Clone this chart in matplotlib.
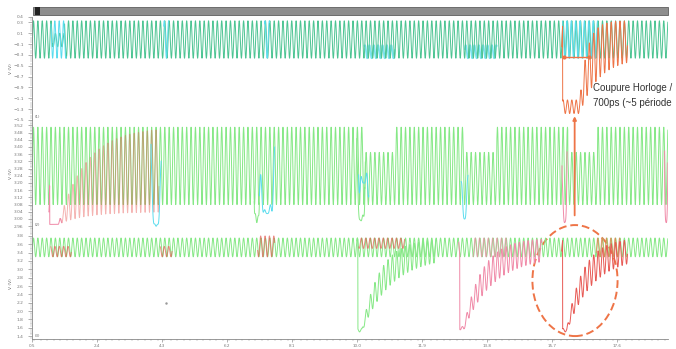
import numpy as np
import matplotlib.pyplot as plt
from matplotlib.patches import Ellipse, Rectangle, ConnectionPatch
from matplotlib.ticker import MultipleLocator, AutoMinorLocator

t_min, t_max = 0.5, 19.1
clk_period = 0.128
x_ticks = [0.5, 2.4, 4.3, 6.2, 8.1, 10.0, 11.9, 13.8, 15.7, 17.6]

# (1) horloge differentielle
p1_lo, p1_hi = -0.36, 0.33
p1_ticks = [0.4, 0.3, 0.1, -0.1, -0.3, -0.5, -0.7, -0.9, -1.1, -1.3, -1.5]
p1_squeeze = [(1.10, 1.45, -0.15, 0.10)]
p1_cyan_low = [(10.23, 11.11), (13.16, 14.09)]
p1_cyan_full = [(1.05, 1.50), (4.35, 4.50), (7.30, 7.45), (16.02, 17.04)]
p1_cut = (16.02, -1.38, 0.50, 0.55, 1.9)     # debut, plancher, maintien, tau, duree

# (2) sortie intermediaire
p2_lo, p2_hi, p2_hi_low = 3.08, 3.51, 3.37
p2_ticks = [2.96, 3.0, 3.04, 3.08, 3.12, 3.16, 3.2, 3.24, 3.28, 3.32, 3.36,
            3.40, 3.44, 3.48, 3.52]
p2_low_win = [(10.23, 11.11), (13.16, 14.09), (16.17, 17.04)]
p2_settle = (1.02, 2.97, 3.04, 0.25, 0.8)   # debut, plancher, bas, maintien, tau
p2_glitch_t = [3.98, 7.00, 7.15, 10.00, 10.05, 13.05, 16.00, 19.00]
p2_glitch_v = [2.96, 2.98, 3.03, 2.99, 3.20, 3.00, 2.98, 2.98]
p2_glitch_w = [0.30, 0.15, 0.45, 0.25, 0.30, 0.20, 0.15, 0.10]
p2_glitch_c = ["cyan", "green", "cyan", "green", "cyan", "cyan", "pink", "pink"]

# (3) sortie
p3_lo, p3_hi = 3.30, 3.75
p3_ticks = [1.4, 1.6, 1.8, 2.0, 2.2, 2.4, 2.6, 2.8, 3.0, 3.2, 3.4, 3.6, 3.8]
p3_dip_t = [10.03, 13.01, 16.02]
p3_dip_v = [1.50, 1.55, 1.50]
p3_dip_tau = [0.85, 0.85, 0.75]
p3_dip_len = [2.3, 2.4, 1.9]
p3_dip_c = ["green", "pink", "red"]
p3_over_a = [1.05, 4.25, 7.10, 10.05, 13.40, 17.00]
p3_over_b = [1.65, 4.60, 7.60, 11.40, 14.40, 17.70]
p3_over_lo = [3.30, 3.30, 3.30, 3.50, 3.30, 3.30]
p3_over_hi = [3.55, 3.55, 3.80, 3.75, 3.75, 3.75]
p3_over_c = ["red", "red", "red", "red", "pink", "orange"]

colors = {"teal": "#4cc492", "cyan": "#5adcee", "green": "#86e886",
          "pink": "#f08aa8", "red": "#e85a55", "orange": "#ee7447"}

t = np.arange(t_min, t_max, 0.004)


def clock(tt, lo, hi, phase=0.0):
    return lo + (hi - lo) * 0.5 * (1 + np.sin(2 * np.pi * tt / clk_period + phase))


def cut(tt, y, a, b):
    y = np.array(y, dtype=float)
    y[(tt < a) | (tt > b)] = np.nan
    return y


def recovery(tt, t0, floor, lo, hi, hold, tau, bump=0.1, k=2.0):
    s = np.clip(tt - t0 - hold, 0, None)
    e = np.exp(-s / tau)
    low = lo + (floor - lo) * e
    high = hi + (floor + bump - hi) * e ** k
    y = clock(tt, low, high)
    before = tt < t0
    y[before] = clock(tt[before], lo, hi)
    return y


def glitch(tt, t0, depth, w, lo, hi):
    m = (tt >= t0) & (tt <= t0 + w)
    b = np.sin(np.pi * (tt[m] - t0) / w) ** 0.5
    return tt[m], clock(tt[m], lo, hi) * (1 - b) + depth * b


W, H = 676, 349
fig = plt.figure(figsize=(W / 100, H / 100), dpi=100)


def px_axes(top, bottom):
    return fig.add_axes([32 / W, (H - bottom) / H, 636 / W, (bottom - top) / H])


ax1 = px_axes(17, 120)
ax2 = px_axes(120, 228)
ax3 = px_axes(228, 339)
lw = 0.7

# ---- (1) ----
lo1 = np.full_like(t, p1_lo)
hi1 = np.full_like(t, p1_hi)
for a, b, lo, hi in p1_squeeze:
    m = (t >= a) & (t <= b)
    lo1[m], hi1[m] = lo, hi
for a, b in p1_cyan_low:
    ax1.plot(t, cut(t, clock(t, p1_lo, -0.12, 1.6), a, b), color=colors["cyan"], lw=1.3,
             alpha=0.8)
t0, fl, hold, tau, span = p1_cut
m = (t >= t0 - 0.03) & (t <= t0 + span)
y_cut = recovery(t[m], t0, fl, p1_lo, p1_hi, hold, tau, bump=0.25, k=2.5)
ax1.plot(t, clock(t, lo1, hi1), color=colors["teal"], lw=lw)
for a, b in p1_cyan_full:
    ax1.plot(t, cut(t, clock(t, p1_lo, p1_hi, 0.8), a, b), color=colors["cyan"], lw=lw)
ax1.plot(t[m], y_cut, color=colors["orange"], lw=lw)
ax1.set_ylim(-1.5, 0.4)
ax1.set_yticks(p1_ticks)

# ---- (2) ----
hi2 = np.full_like(t, p2_hi)
for a, b in p2_low_win:
    hi2[(t >= a) & (t <= b)] = p2_hi_low
ax2.plot(t, clock(t, p2_lo, hi2), color=colors["green"], lw=lw)
t0, fl, low, hold, tau = p2_settle
m = (t >= t0 - 0.03) & (t <= t0 + 3.2)
y = recovery(t[m], t0, fl, low, p2_hi, hold, tau, bump=0.0, k=1.0)
ax2.plot(t[m], cut(t[m], y, t0 + 0.3, t0 + 3.2), color=colors["red"], lw=lw, alpha=0.45)
ax2.plot(t[m], cut(t[m], y, t0 - 0.03, t0 + 0.35), color=colors["pink"], lw=lw)
for g0, gv, gw, gc in zip(p2_glitch_t, p2_glitch_v, p2_glitch_w, p2_glitch_c):
    tg, yg = glitch(t, g0, gv, gw, p2_lo, p2_hi)
    ax2.plot(tg, yg, color=colors[gc], lw=lw)
ax2.set_ylim(2.95, 3.55)
ax2.set_yticks(p2_ticks)

# ---- (3) ----
ax3.plot(t, clock(t, p3_lo, p3_hi), color=colors["green"], lw=lw)
for a, b, lo, hi, c in zip(p3_over_a, p3_over_b, p3_over_lo, p3_over_hi, p3_over_c):
    ax3.plot(t, cut(t, clock(t, lo, hi, 0.6), a, b), color=colors[c], lw=lw, alpha=0.7)
for d0, dv, dt, dl, dc in zip(p3_dip_t, p3_dip_v, p3_dip_tau, p3_dip_len, p3_dip_c):
    m = (t >= d0 - 0.03) & (t <= d0 + dl)
    ax3.plot(t[m], recovery(t[m], d0, dv, p3_lo, p3_hi, 0.12, dt, bump=0.08, k=1.6),
             color=colors[dc], lw=lw)
ax3.plot([4.42], [2.2], ".", color="#999999", ms=1.5)
ax3.set_ylim(1.33, 3.99)
ax3.set_yticks(p3_ticks)

# ---- axes ----
for i, ax in enumerate([ax1, ax2, ax3]):
    ax.set_xlim(t_min, t_max)
    for s in ["top", "right", "bottom"]:
        ax.spines[s].set_visible(False)
    ax.spines["left"].set_color("#888888")
    ax.spines["left"].set_linewidth(0.6)
    ax.yaxis.set_minor_locator(AutoMinorLocator(5))
    ax.tick_params(axis="y", which="major", labelsize=3.2, length=3, width=0.4,
                   colors="#777777", pad=3)
    ax.tick_params(axis="y", which="minor", length=1.6, width=0.3, colors="#999999")
    ax.set_ylabel("V (V)", fontsize=3.2, color="#666666")
    ax.yaxis.set_label_coords(-0.030, 0.5)
    ax.text(0.004, 0.01, "(%d)" % (i + 1), transform=ax.transAxes, fontsize=2.8,
            color="#666666", va="bottom")
    ax.patch.set_alpha(0)
    if ax is not ax3:
        ax.set_xticks([])
ax3.spines["bottom"].set_visible(True)
ax3.spines["bottom"].set_color("#888888")
ax3.spines["bottom"].set_linewidth(0.6)
ax3.set_xticks(x_ticks)
ax3.set_xticklabels(["%.1f" % v for v in x_ticks])
ax3.xaxis.set_minor_locator(MultipleLocator(0.19))
ax3.tick_params(axis="x", which="major", labelsize=3.0, length=2.5, width=0.4,
                colors="#777777", pad=1)
ax3.tick_params(axis="x", which="minor", length=1.4, width=0.3, colors="#999999")

# barre de defilement en haut
fig.patches.append(Rectangle((33 / W, (H - 15) / H), 635 / W, 8 / H, transform=fig.transFigure,
                             facecolor="#8e8e8e", edgecolor="#5e5e5e", lw=0.6))
fig.patches.append(Rectangle((35 / W, (H - 15) / H), 5 / W, 8 / H, transform=fig.transFigure,
                             facecolor="#222222", edgecolor="none"))

# ---- annotations ----
orange = colors["orange"]
ax1.plot([16.05, 16.80], [-0.33, -0.33], color=orange, lw=1.0, marker="o", ms=2)
ax1.text(16.91, -1.05, "Coupure Horloge /\n700ps (~5 période", fontsize=7,
         family="Liberation Sans", color="#333333", va="center", linespacing=1.6)
con = ConnectionPatch(xyA=(16.37, 3.02), coordsA=ax2.transData,
                      xyB=(16.37, -1.43), coordsB=ax1.transData,
                      arrowstyle="-|>", mutation_scale=5, color=orange, lw=1.3)
fig.add_artist(con)
ax3.add_patch(Ellipse((16.38, 2.73), 2.49, 2.66, fill=False, edgecolor=orange, lw=1.4,
                      linestyle=(0, (4, 2)), clip_on=False))

fig.savefig("out.png", dpi=100)
